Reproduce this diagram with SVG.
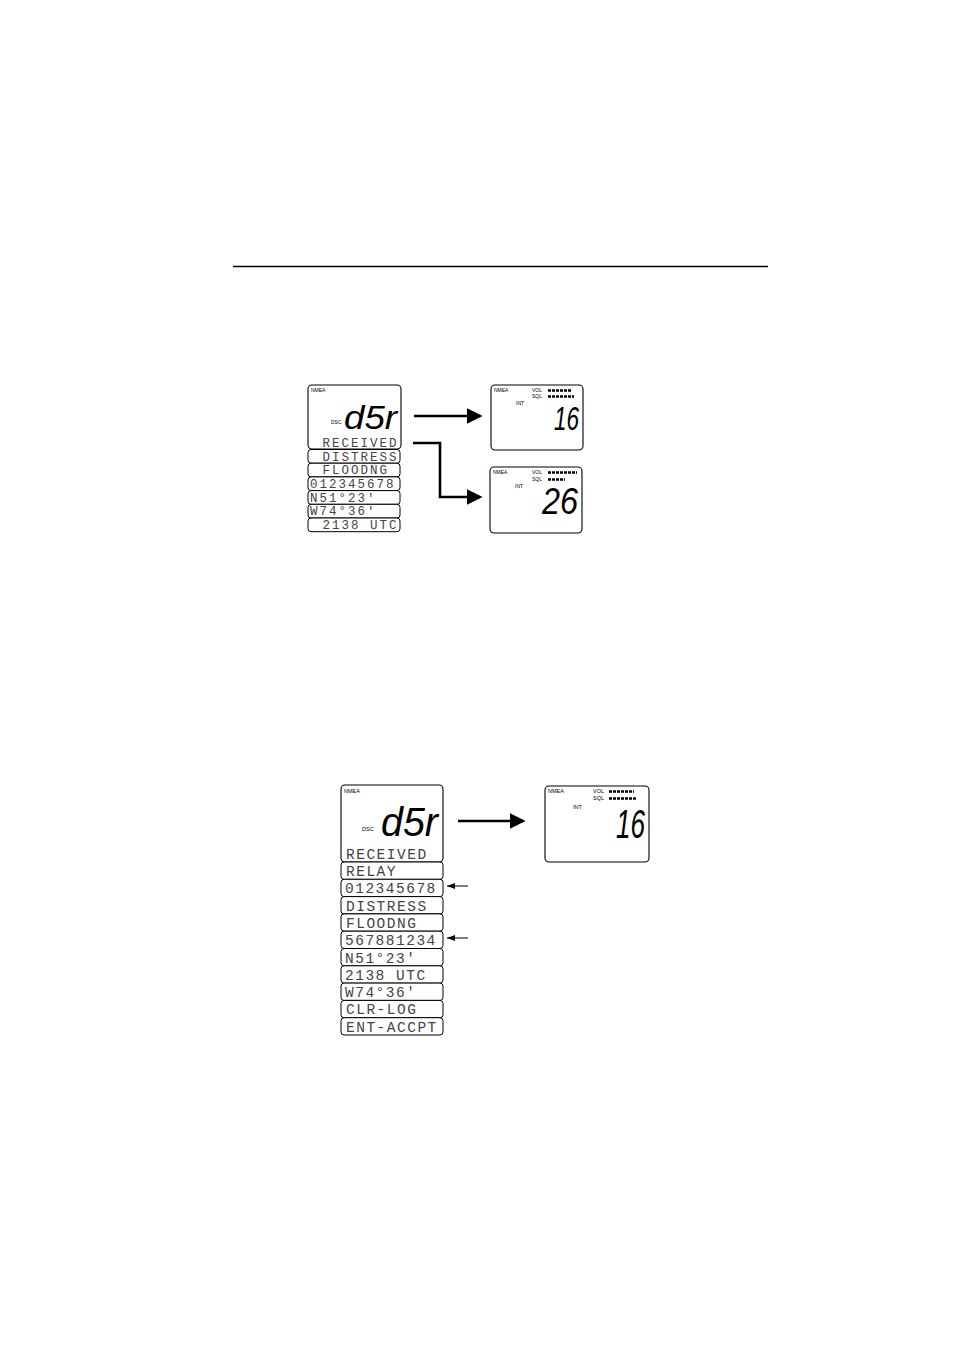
<svg xmlns="http://www.w3.org/2000/svg" width="954" height="1351" viewBox="0 0 954 1351">
<style>
.panel{fill:#fff;stroke:#000;stroke-width:1.1}
.row{fill:#fff;stroke:#000;stroke-width:1}
.lbl{font-family:"Liberation Sans",Arial,sans-serif;fill:#000}
.lcd1{font-family:"Liberation Mono","DejaVu Sans Mono",monospace;font-size:12.5px;letter-spacing:2px;fill:#444}
.lcd2{font-family:"Liberation Mono","DejaVu Sans Mono",monospace;font-size:14.5px;letter-spacing:1.5px;fill:#444}
.seg{font-family:"Liberation Sans",Arial,sans-serif;font-style:italic;fill:#000}
.bar{stroke:#000;stroke-width:2.5;stroke-dasharray:3 1}
.conn{fill:none;stroke:#000;stroke-width:2.6}
.thin{fill:none;stroke:#000;stroke-width:1}
</style>
<defs>
<marker id="big" markerWidth="6" markerHeight="6" refX="5" refY="3" orient="auto" markerUnits="strokeWidth"><path d="M0,0 L6,3 L0,6 z" fill="#000"/></marker>
<marker id="small" markerWidth="8" markerHeight="6" refX="8" refY="3" orient="auto" markerUnits="strokeWidth"><path d="M0,0 L8,3 L0,6 z" fill="#000"/></marker>
</defs>
<line x1="233" y1="266.5" x2="768" y2="266.5" stroke="#000" stroke-width="1.5"/>

<g id="dsc-screen-1">
<rect class="panel" x="308" y="385" width="93" height="64" rx="4"/>
<text class="lbl" x="311" y="392" font-size="5">NMEA</text>
<text class="lbl" x="331" y="424" font-size="5">DSC</text>
<text class="seg" x="344" y="429" font-size="33" textLength="53" lengthAdjust="spacingAndGlyphs">d5r</text>
<text class="lcd1" x="313" y="447" xml:space="preserve"> RECEIVED</text>
<rect class="row" x="308" y="449.5" width="92" height="13.7" rx="3"/>
<text class="lcd1" x="313" y="460.5" xml:space="preserve"> DISTRESS</text>
<rect class="row" x="308" y="463.2" width="92" height="13.7" rx="3"/>
<text class="lcd1" x="313" y="474.2" xml:space="preserve"> FLOODNG</text>
<rect class="row" x="308" y="476.9" width="92" height="13.7" rx="3"/>
<text class="lcd1" x="310" y="487.9">012345678</text>
<rect class="row" x="308" y="490.6" width="92" height="13.7" rx="3"/>
<text class="lcd1" x="310" y="501.6">N51°23'</text>
<rect class="row" x="308" y="504.3" width="92" height="13.7" rx="3"/>
<text class="lcd1" x="310" y="515.3">W74°36'</text>
<rect class="row" x="308" y="518" width="92" height="13.7" rx="3"/>
<text class="lcd1" x="313" y="529" xml:space="preserve"> 2138 UTC</text>
</g>

<g id="ch16-screen-1">
<rect class="panel" x="491" y="385" width="92" height="65" rx="4"/>
<text class="lbl" x="494" y="392" font-size="5">NMEA</text>
<text class="lbl" x="532" y="392" font-size="5">VOL</text>
<line class="bar" x1="548" y1="390.5" x2="572" y2="390.5"/>
<text class="lbl" x="532" y="398" font-size="5">SQL</text>
<line class="bar" x1="548" y1="396.5" x2="574" y2="396.5"/>
<text class="lbl" x="516" y="405" font-size="5">INT</text>
<text class="seg" x="554" y="430" font-size="34" textLength="25" lengthAdjust="spacingAndGlyphs">16</text>
</g>

<g id="ch26-screen">
<rect class="panel" x="490" y="467" width="92" height="66" rx="4"/>
<text class="lbl" x="493" y="474" font-size="5">NMEA</text>
<text class="lbl" x="532" y="474" font-size="5">VOL</text>
<line class="bar" x1="548" y1="472.5" x2="577" y2="472.5"/>
<text class="lbl" x="532" y="481" font-size="5">SQL</text>
<line class="bar" x1="548" y1="479.5" x2="565" y2="479.5"/>
<text class="lbl" x="515" y="488" font-size="5">INT</text>
<text class="seg" x="542" y="514" font-size="36" textLength="36" lengthAdjust="spacingAndGlyphs">26</text>
</g>

<g id="dsc-screen-2">
<rect class="panel" x="341" y="785" width="102" height="77" rx="4"/>
<text class="lbl" x="344" y="793" font-size="5.5">NMEA</text>
<text class="lbl" x="362" y="831" font-size="5.5">DSC</text>
<text class="seg" x="381" y="836" font-size="40" textLength="57" lengthAdjust="spacingAndGlyphs">d5r</text>
<text class="lcd2" x="346" y="859">RECEIVED</text>
<rect class="row" x="341" y="862" width="102" height="17.3" rx="3"/>
<text class="lcd2" x="346" y="876">RELAY</text>
<rect class="row" x="341" y="879.3" width="102" height="17.3" rx="3"/>
<text class="lcd2" x="345" y="893.3">012345678</text>
<rect class="row" x="341" y="896.6" width="102" height="17.3" rx="3"/>
<text class="lcd2" x="346" y="910.6">DISTRESS</text>
<rect class="row" x="341" y="913.9" width="102" height="17.3" rx="3"/>
<text class="lcd2" x="346" y="927.9">FLOODNG</text>
<rect class="row" x="341" y="931.2" width="102" height="17.3" rx="3"/>
<text class="lcd2" x="345" y="945.2">567881234</text>
<rect class="row" x="341" y="948.5" width="102" height="17.3" rx="3"/>
<text class="lcd2" x="345" y="962.5">N51°23'</text>
<rect class="row" x="341" y="965.8" width="102" height="17.3" rx="3"/>
<text class="lcd2" x="345" y="979.8">2138 UTC</text>
<rect class="row" x="341" y="983.1" width="102" height="17.3" rx="3"/>
<text class="lcd2" x="345" y="997.1">W74°36'</text>
<rect class="row" x="341" y="1000.4" width="102" height="17.3" rx="3"/>
<text class="lcd2" x="346" y="1014.4">CLR-LOG</text>
<rect class="row" x="341" y="1017.7" width="102" height="17.3" rx="3"/>
<text class="lcd2" x="346" y="1031.7">ENT-ACCPT</text>
</g>

<g id="ch16-screen-2">
<rect class="panel" x="545" y="786" width="104" height="76" rx="4"/>
<text class="lbl" x="548" y="793" font-size="5.5">NMEA</text>
<text class="lbl" x="593" y="793" font-size="5.5">VOL</text>
<line class="bar" x1="609" y1="791.5" x2="634" y2="791.5"/>
<text class="lbl" x="593" y="800" font-size="5.5">SQL</text>
<line class="bar" x1="609" y1="798.5" x2="637" y2="798.5"/>
<text class="lbl" x="573" y="809" font-size="5.5">INT</text>
<text class="seg" x="616" y="838" font-size="40" textLength="29" lengthAdjust="spacingAndGlyphs">16</text>
</g>

<g id="connectors">
<line class="conn" x1="414" y1="416" x2="480" y2="416" marker-end="url(#big)"/>
<polyline class="conn" points="413,443 440,443 440,497 480,497" marker-end="url(#big)"/>
<line class="conn" x1="458" y1="821" x2="523" y2="821" marker-end="url(#big)"/>
<line class="thin" x1="468" y1="886" x2="447" y2="886" marker-end="url(#small)"/>
<line class="thin" x1="468" y1="938" x2="447" y2="938" marker-end="url(#small)"/>
</g>
</svg>
